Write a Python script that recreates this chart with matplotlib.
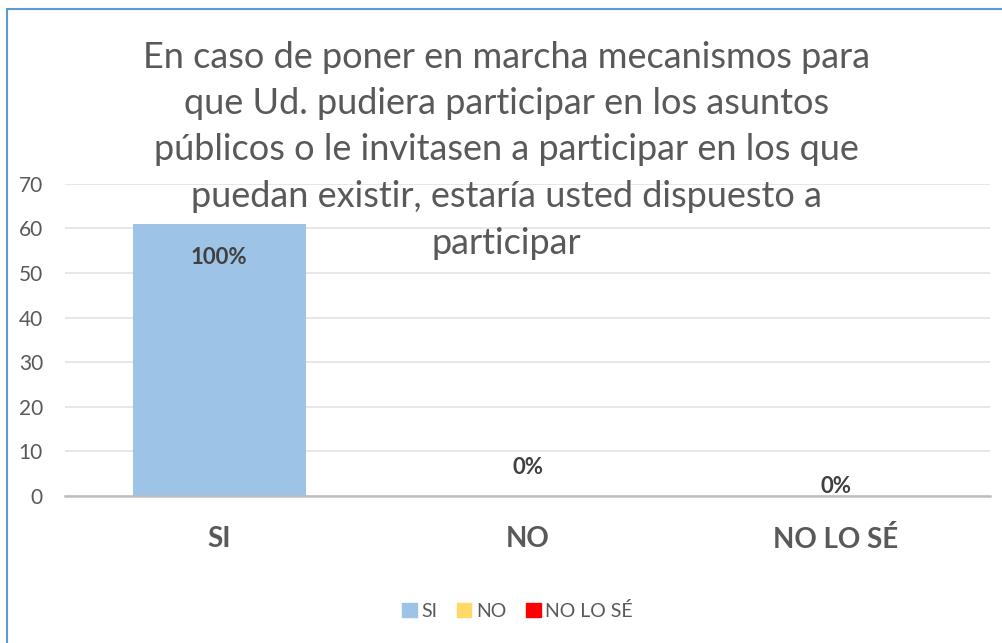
import matplotlib.pyplot as plt
from matplotlib.patches import Rectangle

# Data
categories = ['SI', 'NO', 'NO LO SÉ']
values = [61, 0, 0]
labels = ['100%', '0%', '0%']
colors = ['#9DC3E6', '#FFD966', '#FF0000']
title_lines = ['En caso de poner en marcha mecanismos para',
               'que Ud. pudiera participar en los asuntos',
               'públicos o le invitasen a participar en los que',
               'puedan existir, estaría usted dispuesto a',
               'participar']

plt.rcParams['font.family'] = ['Lato', 'DejaVu Sans']
gray = '#595959'

fig = plt.figure(figsize=(10.03, 6.43), dpi=100)
ax = fig.add_axes([0.065, 0.229, 0.922, 0.485])

x = range(len(categories))
bars = ax.bar(x, values, width=0.56, color=colors, zorder=2)

# Value labels (Excel places them oddly for the zero bars)
offsets = [0, 20, 6.5]
for i, (v, lab) in enumerate(zip(values, labels)):
    if v > 0:
        ax.annotate(lab, (i, v), xytext=(0, -24), textcoords='offset points',
                    ha='center', va='center', fontsize=16, fontweight='bold', color='#404040')
    else:
        ax.annotate(lab, (i, v), xytext=(0, offsets[i]), textcoords='offset points',
                    ha='center', va='center', fontsize=16, fontweight='bold', color='#404040')

ax.set_xlim(-0.5, 2.5)
ax.set_ylim(0, 70)
ax.set_yticks(range(0, 71, 10))
ax.set_xticks(list(x))
ax.set_xticklabels(categories, fontsize=20, fontweight='bold', color=gray)
ax.tick_params(axis='y', length=0, pad=16, labelsize=15, labelcolor=gray)
ax.tick_params(axis='x', length=0, pad=22)
ax.grid(axis='y', color='#E3E3E3', linewidth=1.2, zorder=0)
for s in ['top', 'right', 'left']:
    ax.spines[s].set_visible(False)
ax.spines['bottom'].set_color('#BFBFBF')
ax.spines['bottom'].set_linewidth(1.8)
ax.spines['bottom'].set_zorder(3)

# Title, one line at a time (centered block as in the original)
for k, line in enumerate(title_lines):
    fig.text(0.505, 1 - (57 + 46.5 * k) / 643, line, ha='center', va='center',
             fontsize=26, color=gray)

handles = [Rectangle((0, 0), 1, 1, color=c) for c in colors]
fig.legend(handles, categories, loc='center', bbox_to_anchor=(0.516, 0.05), ncol=3,
           frameon=False, fontsize=14, labelcolor=gray, handlelength=0.75, handleheight=0.75,
           handletextpad=0.25, columnspacing=1.0)

# Outer chart border
fig.patches.append(Rectangle((7 / 1003, -0.1), 1.2, 1 - 9 / 643 + 0.1, transform=fig.transFigure,
                             fill=False, edgecolor='#5B9BD5', linewidth=1.5))

fig.savefig('out.png', dpi=100)
